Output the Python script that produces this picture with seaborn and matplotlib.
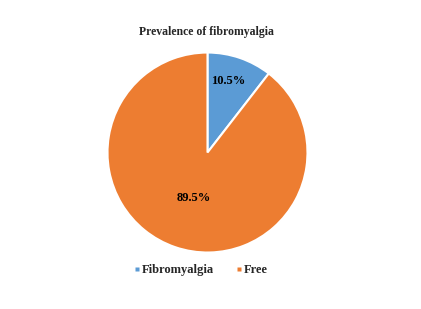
import numpy as np
import matplotlib
matplotlib.use("Agg")
import matplotlib.pyplot as plt
from matplotlib.lines import Line2D
import seaborn as sns

categories = ["Fibromyalgia", "Free"]
values = [10.5, 89.5]
pct_labels = ["10.5%", "89.5%"]
colors = ["#5B9BD5", "#ED7D31"]
title = "Prevalence of fibromyalgia"

sns.set_theme(style="white")
plt.rcParams['font.family'] = ['Liberation Serif', 'DejaVu Serif']

fig = plt.figure(figsize=(4.21, 3.09), dpi=100)
ax = fig.add_axes([0.2553, 0.1828, 0.4751, 0.6472])
pal = sns.color_palette(colors)
wedges, _ = ax.pie(values, colors=pal, startangle=90, counterclock=False,
                   wedgeprops=dict(edgecolor="white", linewidth=1.5))
ax.set_xlim(-1, 1)
ax.set_ylim(-1, 1)
ax.set_aspect("equal")

dists = [0.75, 0.475]
ang_off = [2.5, 2.0]
for w, lab, d, o in zip(wedges, pct_labels, dists, ang_off):
    ang = np.deg2rad((w.theta1 + w.theta2) / 2 + o)
    ax.text(d * np.cos(ang), d * np.sin(ang), lab, ha="center", va="center",
            fontsize=9, fontweight="bold", color="black")

fig.text(0.491, 0.897, title, ha="center", va="center", fontsize=8.5, fontweight="bold")

handles = [Line2D([], [], marker="s", linestyle="", markersize=2.7,
                  markerfacecolor=c, markeredgecolor="none") for c in pal]
leg = fig.legend(handles, categories, loc="center", bbox_to_anchor=(0.478, 0.125),
                 ncol=2, frameon=False, handlelength=0.3,
                 columnspacing=1.85, handletextpad=0.25, prop=dict(weight="bold", size=9))

fig.savefig("out.png", dpi=100)
